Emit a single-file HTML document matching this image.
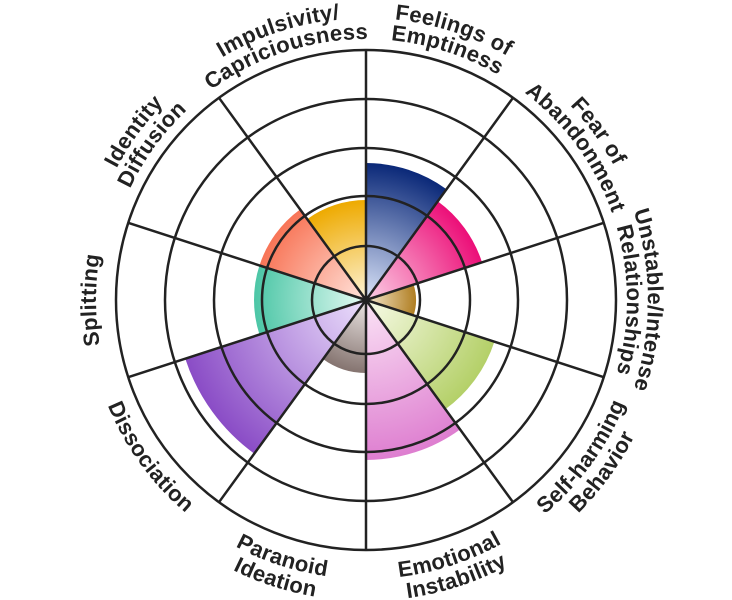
<!DOCTYPE html>
<html><head><meta charset="utf-8"><style>
html,body{margin:0;padding:0;background:#fff;}
svg{display:block;}
text{font-family:"Liberation Sans",sans-serif;font-weight:bold;font-size:22px;letter-spacing:0.3px;fill:#222;}
</style></head><body>
<svg width="732" height="600" viewBox="0 0 732 600" xmlns="http://www.w3.org/2000/svg">
<defs>
<radialGradient id="g1" gradientUnits="userSpaceOnUse" cx="366" cy="300" r="137"><stop offset="0" stop-color="#dde6fa"/><stop offset="1" stop-color="#0a2878"/></radialGradient>
<radialGradient id="g2" gradientUnits="userSpaceOnUse" cx="366" cy="300" r="122"><stop offset="0" stop-color="#fcd0e6"/><stop offset="1" stop-color="#ec0f78"/></radialGradient>
<radialGradient id="g3" gradientUnits="userSpaceOnUse" cx="366" cy="300" r="50"><stop offset="0" stop-color="#f6ead0"/><stop offset="1" stop-color="#b07e22"/></radialGradient>
<radialGradient id="g4" gradientUnits="userSpaceOnUse" cx="366" cy="300" r="135"><stop offset="0" stop-color="#f8fbe8"/><stop offset="1" stop-color="#b4d068"/></radialGradient>
<radialGradient id="g5" gradientUnits="userSpaceOnUse" cx="366" cy="300" r="160"><stop offset="0" stop-color="#fbe4f6"/><stop offset="1" stop-color="#de7ed0"/></radialGradient>
<radialGradient id="g6" gradientUnits="userSpaceOnUse" cx="366" cy="300" r="73"><stop offset="0" stop-color="#ece6e4"/><stop offset="1" stop-color="#857470"/></radialGradient>
<radialGradient id="g7" gradientUnits="userSpaceOnUse" cx="366" cy="300" r="190"><stop offset="0" stop-color="#ece0fc"/><stop offset="1" stop-color="#8a4cc6"/></radialGradient>
<radialGradient id="g8" gradientUnits="userSpaceOnUse" cx="366" cy="300" r="112"><stop offset="0" stop-color="#e6fbf4"/><stop offset="1" stop-color="#4cc6a6"/></radialGradient>
<radialGradient id="g9" gradientUnits="userSpaceOnUse" cx="366" cy="300" r="112"><stop offset="0" stop-color="#ffe4dc"/><stop offset="1" stop-color="#f87456"/></radialGradient>
<radialGradient id="g10" gradientUnits="userSpaceOnUse" cx="366" cy="300" r="100"><stop offset="0" stop-color="#fdf4d8"/><stop offset="1" stop-color="#eeaa00"/></radialGradient>
<path id="cw261" d="M140,169.5 A261,261 0 0 1 592,169.5"/>
<path id="cw282" d="M121.8,159 A282,282 0 0 1 610.2,159"/>
<path id="cw270" d="M132.2,165 A270,270 0 0 1 599.8,165"/>
<path id="ccw279" d="M124.4,439.5 A279,279 0 0 0 607.6,439.5"/>
<path id="ccw301" d="M105.3,450.5 A301,301 0 0 0 626.7,450.5"/>
</defs>
<g>
<path d="M366,300 L366,163 A137,137 0 0 1 446.5,189.2 Z" fill="url(#g1)"/>
<path d="M366,300 L366,178 A122,122 0 0 1 437.7,201.3 Z" fill="url(#g2)" transform="rotate(36 366 300)"/>
<path d="M366,300 L366,250 A50,50 0 0 1 395.4,259.5 Z" fill="url(#g3)" transform="rotate(72 366 300)"/>
<path d="M366,300 L366,165 A135,135 0 0 1 445.4,190.8 Z" fill="url(#g4)" transform="rotate(108 366 300)"/>
<path d="M366,300 L366,140 A160,160 0 0 1 460,170.6 Z" fill="url(#g5)" transform="rotate(144 366 300)"/>
<path d="M366,300 L366,227 A73,73 0 0 1 408.9,240.9 Z" fill="url(#g6)" transform="rotate(180 366 300)"/>
<path d="M366,300 L366,110 A190,190 0 0 1 477.7,146.3 Z" fill="url(#g7)" transform="rotate(216 366 300)"/>
<path d="M366,300 L366,188 A112,112 0 0 1 431.8,209.4 Z" fill="url(#g8)" transform="rotate(252 366 300)"/>
<path d="M366,300 L366,188 A112,112 0 0 1 431.8,209.4 Z" fill="url(#g9)" transform="rotate(288 366 300)"/>
<path d="M366,300 L366,200 A100,100 0 0 1 424.8,219.1 Z" fill="url(#g10)" transform="rotate(324 366 300)"/>
</g>
<g fill="none" stroke="#222" stroke-width="2.5">
<circle cx="366" cy="300" r="54"/>
<circle cx="366" cy="300" r="104"/>
<circle cx="366" cy="300" r="152"/>
<circle cx="366" cy="300" r="201"/>
<circle cx="366" cy="300" r="250"/>
<path d="M366,300 L366,50 M366,300 L513,97.8 M366,300 L603.8,222.8 M366,300 L603.8,377.2 M366,300 L513,502.2 M366,300 L366,550 M366,300 L219,502.2 M366,300 L128.2,377.2 M366,300 L128.2,222.8 M366,300 L219,97.8"/>
</g>
<circle cx="366" cy="300" r="4" fill="#222"/>
<g transform="rotate(18 366 300)"><text><textPath href="#cw282" startOffset="50%" text-anchor="middle">Feelings of</textPath></text><text><textPath href="#cw261" startOffset="50%" text-anchor="middle">Emptiness</textPath></text></g>
<g transform="rotate(54 366 300)"><text><textPath href="#cw282" startOffset="50%" text-anchor="middle">Fear of</textPath></text><text><textPath href="#cw261" startOffset="50%" text-anchor="middle">Abandonment</textPath></text></g>
<g transform="rotate(90 366 300)"><text><textPath href="#cw282" startOffset="50%" text-anchor="middle">Unstable/Intense</textPath></text><text><textPath href="#cw261" startOffset="50%" text-anchor="middle">Relationships</textPath></text></g>
<g transform="rotate(-90 366 300)"><text><textPath href="#cw270" startOffset="50%" text-anchor="middle">Splitting</textPath></text></g>
<g transform="rotate(-54 366 300)"><text><textPath href="#cw282" startOffset="50%" text-anchor="middle">Identity</textPath></text><text><textPath href="#cw261" startOffset="50%" text-anchor="middle">Diffusion</textPath></text></g>
<g transform="rotate(-18 366 300)"><text><textPath href="#cw282" startOffset="50%" text-anchor="middle">Impulsivity/</textPath></text><text><textPath href="#cw261" startOffset="50%" text-anchor="middle">Capriciousness</textPath></text></g>
<g transform="rotate(-54 366 300)"><text><textPath href="#ccw279" startOffset="50%" text-anchor="middle">Self-harming</textPath></text><text><textPath href="#ccw301" startOffset="50%" text-anchor="middle">Behavior</textPath></text></g>
<g transform="rotate(-18 366 300)"><text><textPath href="#ccw279" startOffset="50%" text-anchor="middle">Emotional</textPath></text><text><textPath href="#ccw301" startOffset="50%" text-anchor="middle">Instability</textPath></text></g>
<g transform="rotate(18 366 300)"><text><textPath href="#ccw279" startOffset="50%" text-anchor="middle">Paranoid</textPath></text><text><textPath href="#ccw301" startOffset="50%" text-anchor="middle">Ideation</textPath></text></g>
<g transform="rotate(54 366 300)"><text><textPath href="#ccw279" startOffset="50%" text-anchor="middle">Dissociation</textPath></text></g>
</svg>
</body></html>
